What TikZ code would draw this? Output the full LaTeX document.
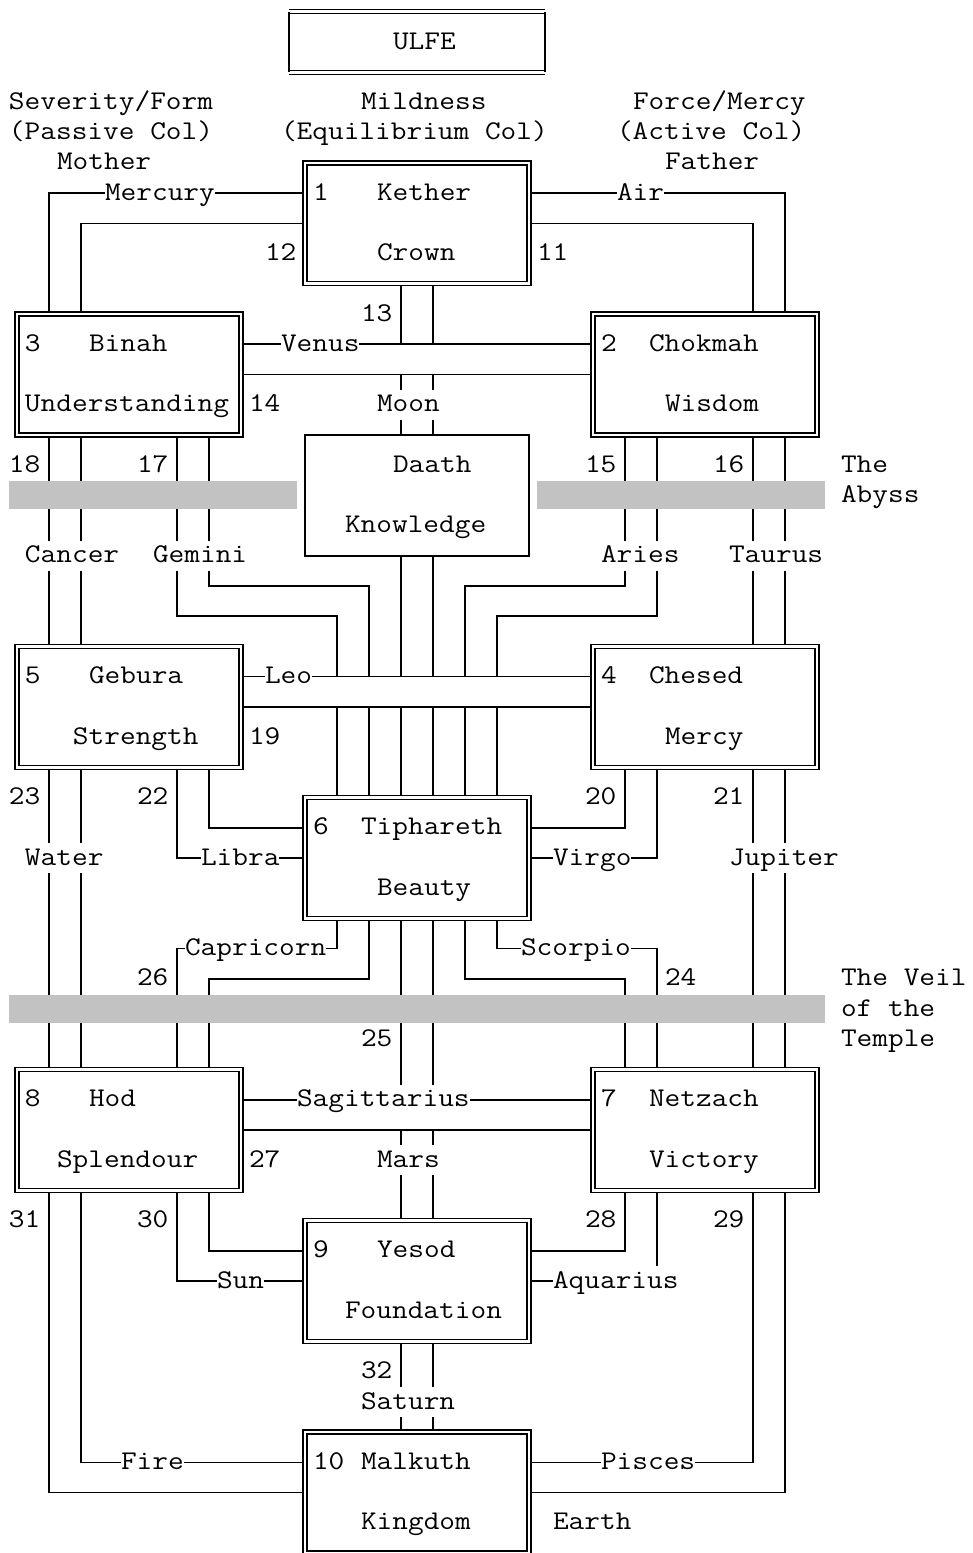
\documentclass[tikz,border=0pt]{standalone}
\usepackage{tikz}
\usepackage{graphicx}
\usetikzlibrary{calc}
\newcommand\asc[1]{\scalebox{1.1287}[1]{#1}}
\tikzset{
    txt/.style={anchor=west,inner sep=0pt,outer sep=0pt,text height=22.2pt,text depth=8pt,font=\fontsize{27}{30}\ttfamily},
    sephira/.style={inner sep=0pt,outer sep=0pt,minimum width=224pt,minimum height=120.88pt},
    dbl/.style={double,double distance=2.6pt,line width=1.4pt},
    chemin/.style={line width=1.6pt},
    gouffre/.style={fill=black!24},
  }
\begin{document}
\begin{tikzpicture}[x=16pt,y=-30.22pt]
				  \useasboundingbox (-1.0625,-0.39) rectangle (59.6875,51);
				  \clip (-1.0625,-0.39) rectangle (59.6875,51);

				  %BOITES
				  \node[inner sep=0pt,outer sep=0pt,minimum width=256pt,minimum height=60.44pt] (Top) at (25,1) {};
				  \node[sephira] (Kether) at (25,7) {};
				  \node[sephira] (Binah) at (7,12) {};
				  \node[sephira] (Chokmah) at (43,12) {};
				  \node[sephira] (Daath) at (25,16) {};
				  \node[sephira] (Gebura) at (7,23) {};
				  \node[sephira] (Chesed) at (43,23) {};
				  \node[sephira] (Tiphareth) at (25,28) {};
				  \node[sephira] (Hod) at (7,37) {};
				  \node[sephira] (Netzach) at (43,37) {};
				  \node[sephira] (Yesod) at (25,42) {};
				  \node[sephira] (Malkuth) at (25,49) {};

				  %titres
				  \node[txt] (ULFE) at (23.5,1) {\asc{ULFE}};
				  \node[txt] (Severity) at (-0.5,3) {\asc{Severity/Form}};
				  \node[txt] (Mildness) at (21.5,3) {\asc{Mildness}};
				  \node[txt] (Force) at (38.5,3) {\asc{Force/Mercy}};
				  \node[txt] (Passive) at (-0.5,4) {\asc{(Passive Col)}};
				  \node[txt] (Equilibrium) at (16.5,4) {\asc{(Equilibrium Col)}};
				  \node[txt] (Active) at (37.5,4) {\asc{(Active Col)}};
				  \node[txt] (Mother) at (2.5,5) {\asc{Mother}};
				  \node[txt] (Father) at (40.5,5) {\asc{Father}};

				  %textes des sephiroth
				  \node[txt] (S_1) at (18.5,6) {\asc{1}};
				  \node[txt] (Kether_t) at (22.5,6) {\asc{Kether}};
				  \node[txt] (Crown) at (22.5,8) {\asc{Crown}};
				  \node[txt] (S_2) at (36.5,11) {\asc{2}};
				  \node[txt] (Chokmah_t) at (39.5,11) {\asc{Chokmah}};
				  \node[txt] (Wisdom) at (40.5,13) {\asc{Wisdom}};
				  \node[txt] (S_3) at (0.5,11) {\asc{3}};
				  \node[txt] (Binah_t) at (4.5,11) {\asc{Binah}};
				  \node[txt] (Understanding) at (0.5,13) {\asc{Understanding}};
				  \node[txt] (Daath_t) at (23.5,15) {\asc{Daath}};
				  \node[txt] (Knowledge) at (20.5,17) {\asc{Knowledge}};
				  \node[txt] (S_4) at (36.5,22) {\asc{4}};
				  \node[txt] (Chesed_t) at (39.5,22) {\asc{Chesed}};
				  \node[txt] (Mercy) at (40.5,24) {\asc{Mercy}};
				  \node[txt] (S_5) at (0.5,22) {\asc{5}};
				  \node[txt] (Gebura_t) at (4.5,22) {\asc{Gebura}};
				  \node[txt] (Strength) at (3.5,24) {\asc{Strength}};
				  \node[txt] (S_6) at (18.5,27) {\asc{6}};
				  \node[txt] (Tiphareth_t) at (21.5,27) {\asc{Tiphareth}};
				  \node[txt] (Beauty) at (22.5,29) {\asc{Beauty}};
				  \node[txt] (S_7) at (36.5,36) {\asc{7}};
				  \node[txt] (Netzach_t) at (39.5,36) {\asc{Netzach}};
				  \node[txt] (Victory) at (39.5,38) {\asc{Victory}};
				  \node[txt] (S_8) at (0.5,36) {\asc{8}};
				  \node[txt] (Hod_t) at (4.5,36) {\asc{Hod}};
				  \node[txt] (Splendour) at (2.5,38) {\asc{Splendour}};
				  \node[txt] (S_9) at (18.5,41) {\asc{9}};
				  \node[txt] (Yesod_t) at (22.5,41) {\asc{Yesod}};
				  \node[txt] (Foundation) at (20.5,43) {\asc{Foundation}};
				  \node[txt] (S_10) at (18.5,48) {\asc{10}};
				  \node[txt] (Malkuth_t) at (21.5,48) {\asc{Malkuth}};
				  \node[txt] (Kingdom) at (21.5,50) {\asc{Kingdom}};

				  %numeros des chemins
				  \node[txt] (P_11) at (32.5,8) {\asc{11}};
				  \node[txt] (P_12) at (15.5,8) {\asc{12}};
				  \node[txt] (P_13) at (21.5,10) {\asc{13}};
				  \node[txt] (P_14) at (14.5,13) {\asc{14}};
				  \node[txt] (P_15) at (35.5,15) {\asc{15}};
				  \node[txt] (P_16) at (43.5,15) {\asc{16}};
				  \node[txt] (P_17) at (7.5,15) {\asc{17}};
				  \node[txt] (P_18) at (-0.5,15) {\asc{18}};
				  \node[txt] (P_19) at (14.5,24) {\asc{19}};
				  \node[txt] (P_20) at (35.5,26) {\asc{20}};
				  \node[txt] (P_21) at (43.5,26) {\asc{21}};
				  \node[txt] (P_22) at (7.5,26) {\asc{22}};
				  \node[txt] (P_23) at (-0.5,26) {\asc{23}};
				  \node[txt] (P_24) at (40.5,32) {\asc{24}};
				  \node[txt] (P_25) at (21.5,34) {\asc{25}};
				  \node[txt] (P_26) at (7.5,32) {\asc{26}};
				  \node[txt] (P_27) at (14.5,38) {\asc{27}};
				  \node[txt] (P_28) at (35.5,40) {\asc{28}};
				  \node[txt] (P_29) at (43.5,40) {\asc{29}};
				  \node[txt] (P_30) at (7.5,40) {\asc{30}};
				  \node[txt] (P_31) at (-0.5,40) {\asc{31}};
				  \node[txt] (P_32) at (21.5,45) {\asc{32}};

				  %noms des chemins
				  \node[txt] (Mercury) at (5.5,6) {\asc{Mercury}};
				  \node[txt] (Air) at (37.5,6) {\asc{Air}};
				  \node[txt] (Venus) at (16.5,11) {\asc{Venus}};
				  \node[txt] (Moon) at (22.5,13) {\asc{Moon}};
				  \node[txt] (Cancer) at (0.5,18) {\asc{Cancer}};
				  \node[txt] (Gemini) at (8.5,18) {\asc{Gemini}};
				  \node[txt] (Aries) at (36.5,18) {\asc{Aries}};
				  \node[txt] (Taurus) at (44.5,18) {\asc{Taurus}};
				  \node[txt] (Leo) at (15.5,22) {\asc{Leo}};
				  \node[txt] (Water) at (0.5,28) {\asc{Water}};
				  \node[txt] (Libra) at (11.5,28) {\asc{Libra}};
				  \node[txt] (Virgo) at (33.5,28) {\asc{Virgo}};
				  \node[txt] (Jupiter) at (44.5,28) {\asc{Jupiter}};
				  \node[txt] (Capricorn) at (10.5,31) {\asc{Capricorn}};
				  \node[txt] (Scorpio) at (31.5,31) {\asc{Scorpio}};
				  \node[txt] (Sagittarius) at (17.5,36) {\asc{Sagittarius}};
				  \node[txt] (Mars) at (22.5,38) {\asc{Mars}};
				  \node[txt] (Sun) at (12.5,42) {\asc{Sun}};
				  \node[txt] (Aquarius) at (33.5,42) {\asc{Aquarius}};
				  \node[txt] (Saturn) at (21.5,46) {\asc{Saturn}};
				  \node[txt] (Fire) at (6.5,48) {\asc{Fire}};
				  \node[txt] (Pisces) at (36.5,48) {\asc{Pisces}};
				  \node[txt] (Earth) at (33.5,50) {\asc{Earth}};

				  %abime et voile
				  \node[txt] (The) at (51.5,15) {\asc{The}};
				  \node[txt] (Abyss) at (51.5,16) {\asc{Abyss}};
				  \node[txt] (Veil) at (51.5,32) {\asc{The Veil}};
				  \node[txt] (Of) at (51.5,33) {\asc{of the}};
				  \node[txt] (Temple) at (51.5,34) {\asc{Temple}};

				  %chemin 11
				  \draw[chemin] (Kether.east |- Air.west) -- (Air.west);
				  \draw[chemin] (Air.east) -| (Chokmah.north -| 48,0);
				  \draw[chemin] (Kether.east |- 0,7) -| (Chokmah.north -| 46,0);
				  %chemin 12
				  \draw[chemin] (Kether.west |- Mercury.east) -- (Mercury.east);
				  \draw[chemin] (Mercury.west) -| (Binah.north -| 2,0);
				  \draw[chemin] (Kether.west |- 0,7) -| (Binah.north -| 4,0);
				  %chemin 13
				  \draw[chemin] (Kether.south -| 24,0) -- (Venus -| 24,0) (Kether.south -| 26,0) -- (Venus -| 26,0);
				  \draw[chemin] (24,12) -- (Moon.north -| 24,0) (26,12) -- (Moon.north -| 26,0);
				  \draw[chemin] (Moon.south -| 24,0) -- (Daath.north -| 24,0) (Moon.south -| 26,0) -- (Daath.north -| 26,0);
				  \draw[chemin] (Daath.south -| 24,0) -- (Leo -| 24,0) (Daath.south -| 26,0) -- (Leo -| 26,0);
				  \draw[chemin] (24,23) -- (Tiphareth.north -| 24,0) (26,23) -- (Tiphareth.north -| 26,0);
				  %chemin 14
				  \draw[chemin] (Binah.east |- Venus.west) -- (Venus.west) (Venus.east) -- (Chokmah.west |- Venus.east);
				  \draw[chemin] (Binah.east |- 0,12) -- (Chokmah.west |- 0,12);
				  %chemin 15
				  \draw[chemin] (Chokmah.south -| 38,0) -- (Aries.north -| 38,0) (Chokmah.south -| 40,0) -- (Aries.north -| 40,0);
				  \draw[chemin] (Aries.south -| 38,0) |- (28,19) -- (Leo -| 28,0);
				  \draw[chemin] (Aries.south -| 40,0) |- (30,20) -- (Leo -| 30,0);
				  \draw[chemin] (28,23) -- (Tiphareth.north -| 28,0) (30,23) -- (Tiphareth.north -| 30,0);
				  %chemin 16
				  \draw[chemin] (Chokmah.south -| 46,0) -- (Taurus.north -| 46,0) (Chokmah.south -| 48,0) -- (Taurus.north -| 48,0);
				  \draw[chemin] (Taurus.south -| 46,0) -- (Chesed.north -| 46,0) (Taurus.south -| 48,0) -- (Chesed.north -| 48,0);
				  %chemin 17
				  \draw[chemin] (Binah.south -| 10,0) -- (Gemini.north -| 10,0) (Binah.south -| 12,0) -- (Gemini.north -| 12,0);
				  \draw[chemin] (Gemini.south -| 12,0) |- (22,19) -- (Leo -| 22,0);
				  \draw[chemin] (Gemini.south -| 10,0) |- (20,20) -- (Leo -| 20,0);
				  \draw[chemin] (20,23) -- (Tiphareth.north -| 20,0) (22,23) -- (Tiphareth.north -| 22,0);
				  %chemin 18
				  \draw[chemin] (Binah.south -| 2,0) -- (Cancer.north -| 2,0) (Binah.south -| 4,0) -- (Cancer.north -| 4,0);
				  \draw[chemin] (Cancer.south -| 2,0) -- (Gebura.north -| 2,0) (Cancer.south -| 4,0) -- (Gebura.north -| 4,0);
				  %chemin 19
				  \draw[chemin] (Gebura.east |- Leo.west) -- (Leo.west) (Leo.east) -- (Chesed.west |- Leo.east);
				  \draw[chemin] (Gebura.east |- 0,23) -- (Chesed.west |- 0,23);
				  %chemin 20
				  \draw[chemin] (Chesed.south -| 38,0) |- (Tiphareth.east |- 0,27);
				  \draw[chemin] (Chesed.south -| 40,0) |- (Virgo.east);
				  \draw[chemin] (Virgo.west) -- (Tiphareth.east |- Virgo.west);
				  %chemin 21
				  \draw[chemin] (Chesed.south -| 46,0) -- (Jupiter.north -| 46,0) (Chesed.south -| 48,0) -- (Jupiter.north -| 48,0);
				  \draw[chemin] (Jupiter.south -| 46,0) -- (Netzach.north -| 46,0) (Jupiter.south -| 48,0) -- (Netzach.north -| 48,0);
				  %chemin 22
				  \draw[chemin] (Gebura.south -| 12,0) |- (Tiphareth.west |- 0,27);
				  \draw[chemin] (Gebura.south -| 10,0) |- (Libra.west);
				  \draw[chemin] (Libra.east) -- (Tiphareth.west |- Libra.east);
				  %chemin 23
				  \draw[chemin] (Gebura.south -| 2,0) -- (Water.north -| 2,0) (Gebura.south -| 4,0) -- (Water.north -| 4,0);
				  \draw[chemin] (Water.south -| 2,0) -- (Hod.north -| 2,0) (Water.south -| 4,0) -- (Hod.north -| 4,0);
				  %chemin 24
				  \draw[chemin] (Tiphareth.south -| 30,0) |- (Scorpio.west);
				  \draw[chemin] (Scorpio.east) -| (Netzach.north -| 40,0);
				  \draw[chemin] (Tiphareth.south -| 28,0) |- (38,32) -- (Netzach.north -| 38,0);
				  %chemin 25
				  \draw[chemin] (Tiphareth.south -| 24,0) -- (Sagittarius.north -| 24,0) (Tiphareth.south -| 26,0) -- (Sagittarius.north -| 26,0);
				  \draw[chemin] (24,37) -- (Mars.north -| 24,0) (26,37) -- (Mars.north -| 26,0);
				  \draw[chemin] (Mars.south -| 24,0) -- (Yesod.north -| 24,0) (Mars.south -| 26,0) -- (Yesod.north -| 26,0);
				  %chemin 26
				  \draw[chemin] (Tiphareth.south -| 20,0) |- (Capricorn.east);
				  \draw[chemin] (Capricorn.west) -| (Hod.north -| 10,0);
				  \draw[chemin] (Tiphareth.south -| 22,0) |- (12,32) -- (Hod.north -| 12,0);
				  %chemin 27
				  \draw[chemin] (Hod.east |- Sagittarius.west) -- (Sagittarius.west) (Sagittarius.east) -- (Netzach.west |- Sagittarius.east);
				  \draw[chemin] (Hod.east |- 0,37) -- (Netzach.west |- 0,37);
				  %chemin 28
				  \draw[chemin] (Netzach.south -| 38,0) |- (Yesod.east |- 0,41);
				  \draw[chemin] (Netzach.south -| 40,0) -- (Aquarius.north -| 40,0);
				  \draw[chemin] (Yesod.east |- Aquarius.west) -- (Aquarius.west);
				  %chemin 29
				  \draw[chemin] (Netzach.south -| 46,0) |- (Pisces.east);
				  \draw[chemin] (Pisces.west) -- (Malkuth.east |- Pisces.west);
				  \draw[chemin] (Netzach.south -| 48,0) |- (Malkuth.east |- 0,49);
				  %chemin 30
				  \draw[chemin] (Hod.south -| 12,0) |- (Yesod.west |- 0,41);
				  \draw[chemin] (Hod.south -| 10,0) |- (Sun.west);
				  \draw[chemin] (Sun.east) -- (Yesod.west |- Sun.east);
				  %chemin 31
				  \draw[chemin] (Hod.south -| 4,0) |- (Fire.west);
				  \draw[chemin] (Fire.east) -- (Malkuth.west |- Fire.east);
				  \draw[chemin] (Hod.south -| 2,0) |- (Malkuth.west |- 0,49);
				  %chemin 32
				  \draw[chemin] (Yesod.south -| 24,0) -- (Saturn.north -| 24,0) (Yesod.south -| 26,0) -- (Saturn.north -| 26,0);
				  \draw[chemin] (Saturn.south -| 24,0) -- (Malkuth.north -| 24,0) (Saturn.south -| 26,0) -- (Malkuth.north -| 26,0);

				  %ABYSS et VEIL
				  \fill[gouffre] (-0.5,15.54) rectangle (17.5,16.46);
				  \fill[gouffre] (32.5,15.54) rectangle (50.5,16.46);
				  \fill[gouffre] (-0.5,32.54) rectangle (50.5,33.46);

				  %bords
				  \draw[dbl] (Top.north west) -- (Top.north east) (Top.south west) -- (Top.south east);
				  \draw[line width=1.4pt] (Top.north west) -- (Top.south west) (Top.north east) -- (Top.south east);
				  \draw[dbl] (Kether.north west) rectangle (Kether.south east);
				  \draw[dbl] (Binah.north west) rectangle (Binah.south east);
				  \draw[dbl] (Chokmah.north west) rectangle (Chokmah.south east);
				  \draw[chemin] (Daath.north west) rectangle (Daath.south east);
				  \draw[dbl] (Gebura.north west) rectangle (Gebura.south east);
				  \draw[dbl] (Chesed.north west) rectangle (Chesed.south east);
				  \draw[dbl] (Tiphareth.north west) rectangle (Tiphareth.south east);
				  \draw[dbl] (Hod.north west) rectangle (Hod.south east);
				  \draw[dbl] (Netzach.north west) rectangle (Netzach.south east);
				  \draw[dbl] (Yesod.north west) rectangle (Yesod.south east);
				  \draw[dbl] (Malkuth.north west) rectangle (Malkuth.south east);

				  \end{tikzpicture}
\end{document}
